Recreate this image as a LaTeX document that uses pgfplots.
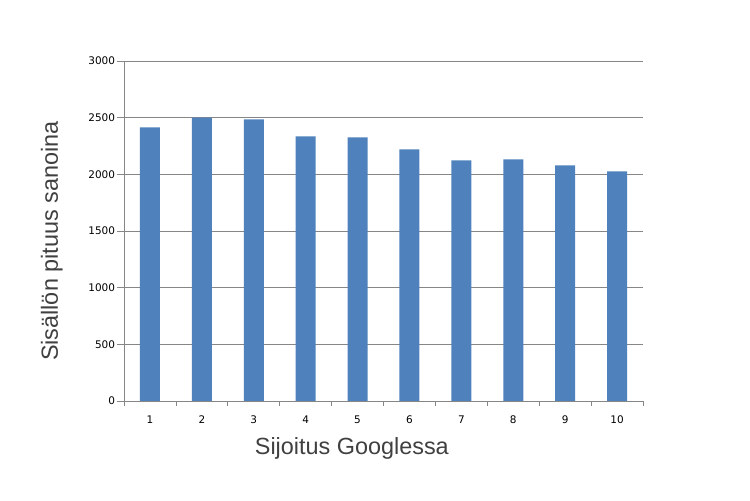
\documentclass[border=0pt]{standalone}
\usepackage{pgfplots}
\pgfplotsset{compat=1.18}
\usepackage{fontspec}
\setmainfont{Liberation Sans}
\newfontfamily\tickfont{DejaVu Sans}
\definecolor{barblue}{HTML}{4F81BD}
\definecolor{gridgray}{HTML}{868686}
\definecolor{labelgray}{HTML}{404040}

\begin{document}
\begin{tikzpicture}
\useasboundingbox (0,0) rectangle (750bp,501bp);
\begin{axis}[
  at={(124bp,100bp)}, anchor=south west,
  scale only axis, width=519bp, height=340bp,
  xmin=0.5, xmax=10.5, ymin=0, ymax=3000,
  axis lines=left,
  axis line style={draw=gridgray, line width=0.8bp, -},
  ymajorgrids,
  grid style={draw=gridgray, line width=0.8bp},
  ytick={0,500,...,3000},
  xtick={1,...,10},
  major tick length=7bp, tick align=outside,
  major x tick style={draw=none},
  y tick style={draw=gridgray, line width=0.8bp},
  extra x ticks={0.5,1.5,...,10.5},
  extra x tick labels={},
  extra x tick style={major x tick style={draw=gridgray, line width=0.8bp},
    major tick length=5bp, tick align=outside},
  tick label style={font=\tickfont\fontsize{10.5}{12}\selectfont, text=black},
  yticklabel style={xshift=1.5bp},
  xticklabel style={yshift=-4bp},
  /pgf/number format/assume math mode=true,
  /pgf/number format/set thousands separator={},
  xlabel={Sijoitus Googlessa},
  ylabel={Sisällön pituus sanoina},
  label style={font=\fontsize{23.5}{27}\selectfont, text=labelgray},
  x label style={at={(axis description cs:0.439,-0.141)}, anchor=center},
  y label style={at={(axis description cs:-0.139,0.47)}, anchor=center},
]
\addplot[ybar, bar width=20bp, fill=barblue, draw=none] coordinates {
  (1,2415) (2,2500) (3,2485) (4,2335) (5,2326)
  (6,2220) (7,2124) (8,2132) (9,2079) (10,2026)
};
\end{axis}
\end{tikzpicture}
\end{document}
